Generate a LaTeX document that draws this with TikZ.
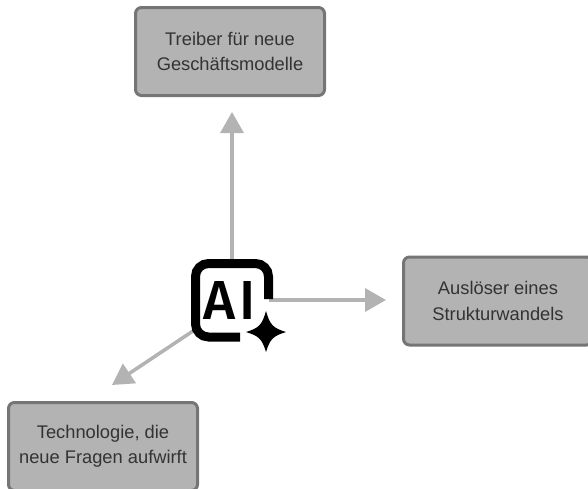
\documentclass[tikz,border=0pt]{standalone}
\usepackage{fontspec}
\setmainfont{Liberation Sans}
\newfontfamily\iconfont{Fira Sans Medium}
\usetikzlibrary{arrows.meta}
\definecolor{boxfill}{HTML}{B3B3B3}
\definecolor{boxline}{HTML}{757575}
\definecolor{boxtext}{HTML}{333333}
\tikzset{
    infobox/.style={draw=boxline, fill=boxfill, text=boxtext, line width=3pt, rounded corners=6pt,
        minimum width=189pt, minimum height=88pt, align=center, font=\fontsize{18.3}{25.5}\selectfont},
    grayarrow/.style={draw=boxfill, line width=3.5pt, -{Triangle[length=21pt,width=23pt,fill=boxfill]}},
}
\begin{document}
\begin{tikzpicture}[x=1pt, y=-1pt]
    \clip (0, 0) rectangle (588, 488);
    \node[infobox] (treiber) at (230, 51.5) {Treiber für neue\\Geschäftsmodelle};
    \node[infobox] (ausloeser) at (498, 301) {Auslöser eines\\Strukturwandels};
    \node[infobox] (technologie) at (103, 446.5) {Technologie, die\\neue Fragen aufwirft};
    \node[minimum width=73pt, minimum height=73pt, inner sep=0pt,
        font=\fontsize{55}{55}\selectfont\iconfont] (ai) at (232, 300) {\hspace{-4pt}A\kern4pt I};
    \coordinate (tipup) at (232, 112);
    \coordinate (tipright) at (386, 300);
    \coordinate (lowstart) at (196, 329);
    \coordinate (tiplow) at (112, 385);
    \draw[grayarrow] (ai.north) -- (tipup);
    \draw[grayarrow] (ai.east) -- (tipright);
    \draw[grayarrow] (lowstart) -- (tiplow);
    % frame with the gap for the star
    \draw[line width=9pt, rounded corners=13pt] (240, 337) -- (195.5, 337) -- (195.5, 263.5) -- (268.5, 263.5) -- (268.5, 299);
    \fill (266, 311) .. controls (270, 325) and (273, 328) .. (286, 332)
        .. controls (273, 336) and (270, 339) .. (266, 352)
        .. controls (262, 339) and (259, 336) .. (246, 332)
        .. controls (259, 328) and (262, 325) .. (266, 311);
\end{tikzpicture}
\end{document}
